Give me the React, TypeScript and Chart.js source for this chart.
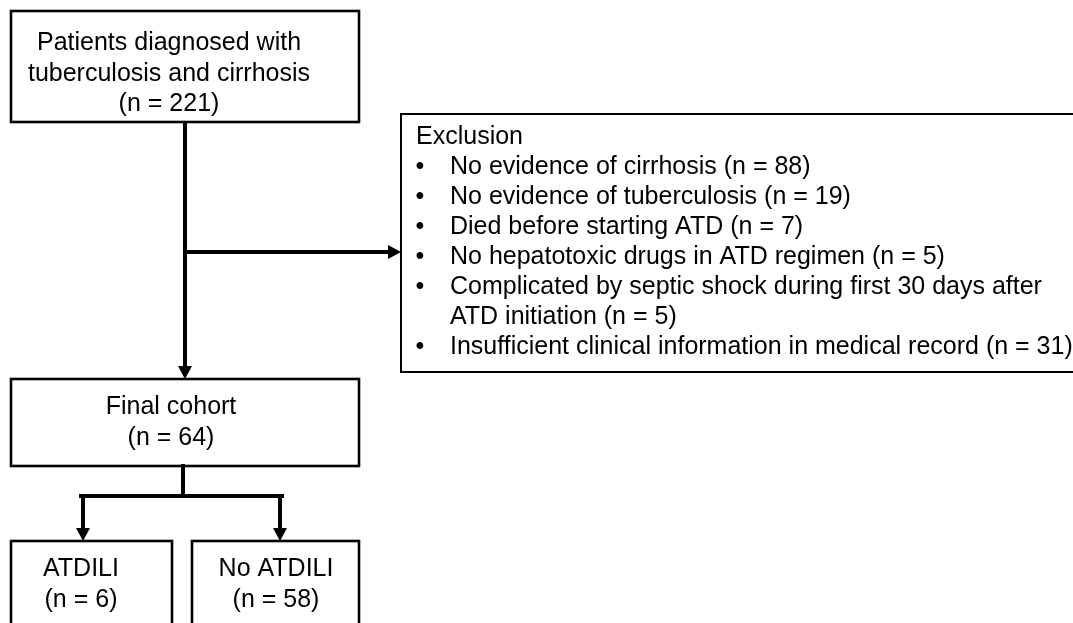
import React, { useEffect, useRef } from "react";
import { Chart, registerables } from "chart.js";

Chart.register(...registerables);

// ---- Data ----
const cohortLabels: string[][] = [
  ["Patients diagnosed with", "tuberculosis and cirrhosis"],
  ["Final cohort"],
  ["ATDILI"],
  ["No ATDILI"],
];
const cohortCounts: number[] = [221, 64, 6, 58];

const exclusionTitle = "Exclusion";
const exclusionReasons: string[][] = [
  ["No evidence of cirrhosis"],
  ["No evidence of tuberculosis"],
  ["Died before starting ATD"],
  ["No hepatotoxic drugs in ATD regimen"],
  ["Complicated by septic shock during first 30 days after", "ATD initiation"],
  ["Insufficient clinical information in medical record"],
];
const exclusionCounts: number[] = [88, 19, 7, 5, 5, 31];

// ---- Layout (in scale units; canvas is 1073 x 623) ----
const W = 1073;
const H = 623;
// box rectangles [x0, y0, x1, y1]
const cohortBoxes: number[][] = [
  [11, 11, 359, 122],
  [11, 379, 359, 466],
  [11, 541, 172, 660],
  [192, 541, 359, 660],
];
const cohortTextX: number[] = [169, 171, 81, 276];
const cohortTextY0: number[] = [50, 414, 576, 576];
const cohortLineGap = 30.5;
const exclusionBox = [401, 114, 1076, 372];
const exclTitleX = 416;
const exclTitleY = 144;
const exclBulletX = 420;
const exclTextX = 450;
const exclLineGap = 30;

// connectors: [x0, y0, x1, y1, arrow(1/0)]
const connectors: number[][] = [
  [185, 122, 185, 379, 1],
  [185, 252, 401, 252, 1],
  [183, 466, 183, 496, 0],
  [81, 496, 282, 496, 0],
  [83, 496, 83, 541, 1],
  [280, 496, 280, 541, 1],
];

const FONT = '25px "Liberation Sans", Arial, sans-serif';

const flowPlugin = {
  id: "flow",
  afterDraw(chart: any) {
    const ctx: CanvasRenderingContext2D = chart.ctx;
    const xs = chart.scales.x;
    const ys = chart.scales.y;
    const px = (v: number) => xs.getPixelForValue(v);
    const py = (v: number) => ys.getPixelForValue(v);

    ctx.save();
    ctx.fillStyle = "#fff";
    ctx.fillRect(0, 0, chart.width, chart.height);

    ctx.strokeStyle = "#000";
    ctx.fillStyle = "#000";

    // boxes
    ctx.lineWidth = 2.6;
    cohortBoxes.forEach((b) => {
      ctx.strokeRect(px(b[0]), py(b[1]), px(b[2]) - px(b[0]), py(b[3]) - py(b[1]));
    });
    ctx.lineWidth = 2;
    ctx.strokeRect(
      px(exclusionBox[0]),
      py(exclusionBox[1]),
      px(exclusionBox[2]) - px(exclusionBox[0]),
      py(exclusionBox[3]) - py(exclusionBox[1])
    );

    // connectors
    const headLen = 13;
    const headHalf = 7;
    connectors.forEach((c) => {
      const x0 = px(c[0]), y0 = py(c[1]), x1 = px(c[2]), y1 = py(c[3]);
      const arrow = c[4] === 1;
      const dx = x1 - x0, dy = y1 - y0;
      const len = Math.hypot(dx, dy);
      const ux = dx / len, uy = dy / len;
      const ex = arrow ? x1 - ux * (headLen - 1) : x1;
      const ey = arrow ? y1 - uy * (headLen - 1) : y1;
      ctx.lineWidth = 4;
      ctx.lineCap = arrow ? "butt" : "square";
      ctx.beginPath();
      ctx.moveTo(x0, y0);
      ctx.lineTo(ex, ey);
      ctx.stroke();
      if (arrow) {
        const bx = x1 - ux * headLen, by = y1 - uy * headLen;
        ctx.beginPath();
        ctx.moveTo(x1, y1);
        ctx.lineTo(bx - uy * headHalf, by + ux * headHalf);
        ctx.lineTo(bx + uy * headHalf, by - ux * headHalf);
        ctx.closePath();
        ctx.fill();
      }
    });

    // cohort texts
    ctx.font = FONT;
    ctx.textBaseline = "alphabetic";
    ctx.textAlign = "center";
    cohortLabels.forEach((lines, i) => {
      const all = [...lines, `(n = ${cohortCounts[i]})`];
      all.forEach((t, k) => {
        ctx.fillText(t, px(cohortTextX[i]), py(cohortTextY0[i] + k * cohortLineGap));
      });
    });

    // exclusion texts
    ctx.textAlign = "left";
    ctx.fillText(exclusionTitle, px(exclTitleX), py(exclTitleY));
    let line = 1;
    exclusionReasons.forEach((lines, i) => {
      lines.forEach((t, k) => {
        const y = exclTitleY + line * exclLineGap;
        const txt = k === lines.length - 1 ? `${t} (n = ${exclusionCounts[i]})` : t;
        if (k === 0) {
          ctx.textAlign = "center";
          ctx.fillText("\u2022", px(exclBulletX), py(y));
          ctx.textAlign = "left";
        }
        ctx.fillText(txt, px(exclTextX), py(y));
        line++;
      });
    });
    ctx.restore();
  },
};

export default function App() {
  const ref = useRef<HTMLCanvasElement | null>(null);
  useEffect(() => {
    document.body.style.margin = "0";
    const canvas = ref.current!;
    const chart = new Chart(canvas, {
      type: "scatter",
      data: { datasets: [{ data: [], showLine: false }] },
      options: {
        animation: false,
        responsive: false,
        devicePixelRatio: 1,
        layout: { padding: 0 },
        scales: {
          x: { type: "linear", min: 0, max: W, display: false },
          y: { type: "linear", min: 0, max: H, reverse: true, display: false },
        },
        plugins: { legend: { display: false }, tooltip: { enabled: false } },
      },
      plugins: [flowPlugin],
    });
    return () => chart.destroy();
  }, []);
  return (
    <div style={{ position: "absolute", left: 0, top: 0, width: W, height: H, background: "#fff" }}>
      <canvas ref={ref} width={W} height={H} style={{ display: "block" }} />
    </div>
  );
}
